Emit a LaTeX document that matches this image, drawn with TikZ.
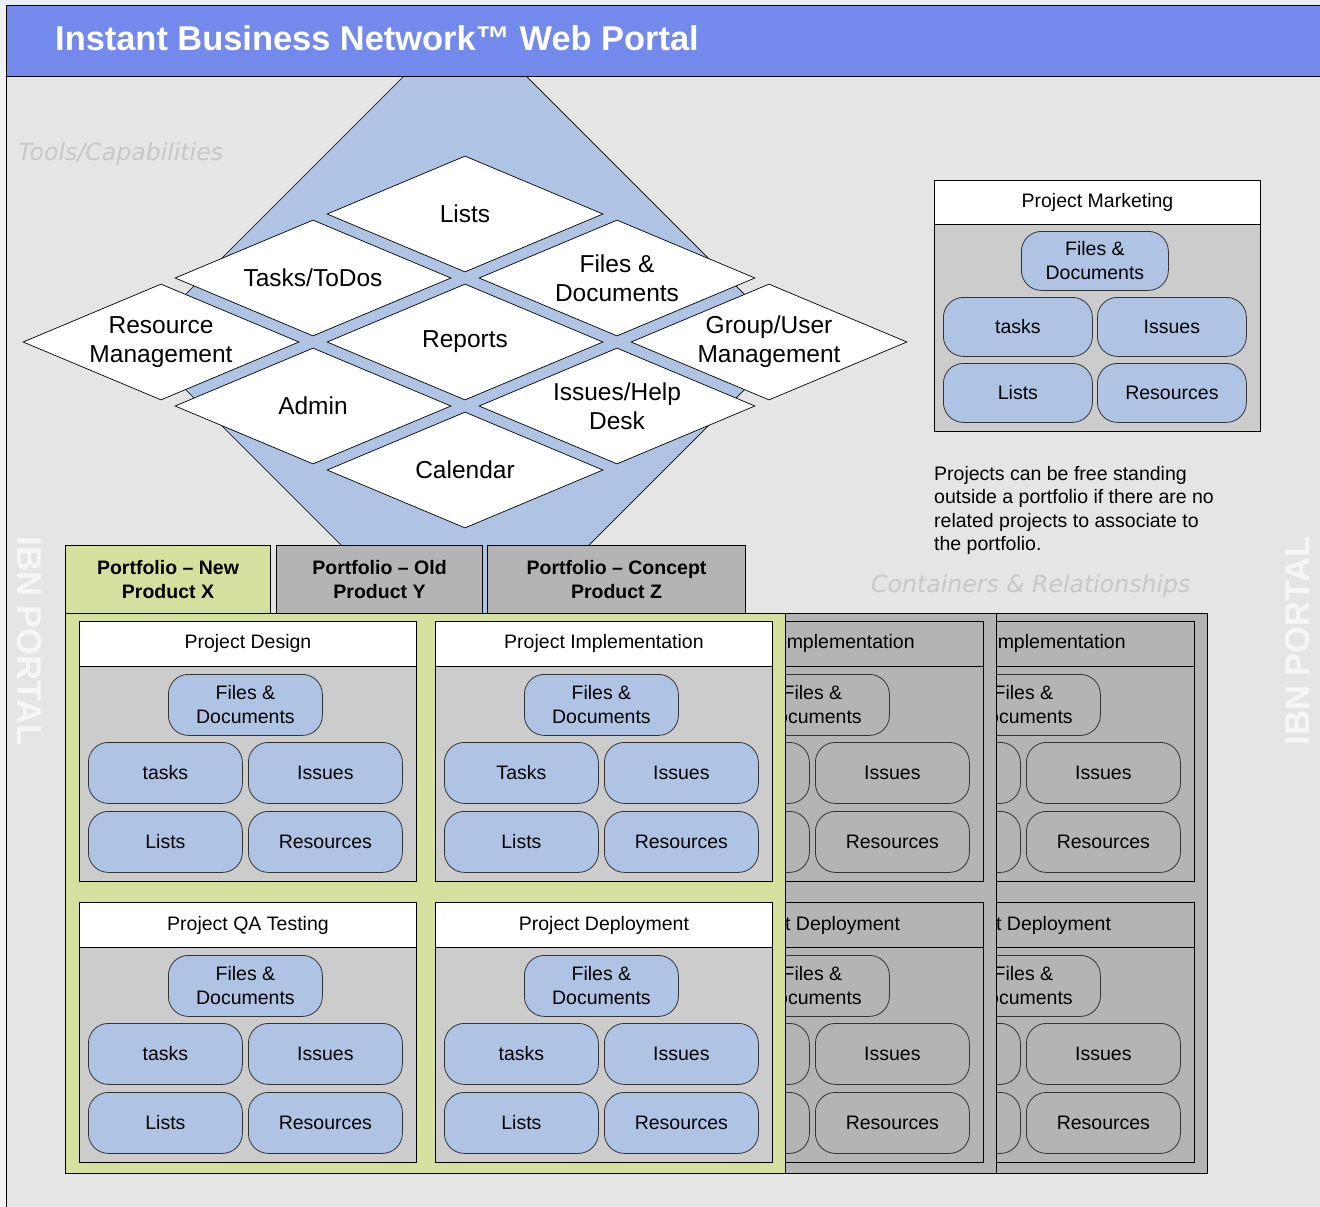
\documentclass[tikz,border=0pt]{standalone}
\usepackage{fontspec}
\setmainfont{Liberation Sans}
\newfontfamily\dvfont{DejaVu Sans}
\usetikzlibrary{shapes.geometric}
\definecolor{bgc}{HTML}{E5E5E5}
\definecolor{topc}{HTML}{E6EEF6}
\definecolor{leftc}{HTML}{F2F2F2}
\definecolor{hdrblue}{HTML}{7389EC}
\definecolor{lblue}{HTML}{AFC4E4}
\definecolor{pgreen}{HTML}{D6E09E}
\definecolor{pgray}{HTML}{B4B4B4}
\definecolor{cgray}{HTML}{CCCCCC}
\definecolor{faint}{HTML}{C8C8C8}
\definecolor{ibn}{HTML}{F6F6F6}
\newcommand{\fsN}{\fontsize{19.5}{24}\selectfont}
\newcommand{\fsD}{\fontsize{24.5}{29}\selectfont}
\newcommand{\pcard}[7]{%
  \node[bdy#7, anchor=north west, minimum width=337pt, minimum height=215pt] (#1b) at (#2,{#3+45}) {};
  \node[hdr#7, anchor=north west, minimum width=337pt, minimum height=45pt] (#1h) at (#2,#3) {#4};
  \node[pill#7, anchor=north west] (#1f) at ({#2+89},{#3+53}) {Files \&\\Documents};
  \node[pill#7, anchor=north west] (#1t) at ({#2+9},{#3+121}) {#5};
  \node[pill#7, anchor=north west] (#1i) at ({#2+169},{#3+121}) {Issues};
  \node[pill#7, anchor=north west] (#1l) at ({#2+9},{#3+190}) {#6};
  \node[pill#7, anchor=north west] (#1r) at ({#2+169},{#3+190}) {Resources};
}
\tikzset{
  hdrF/.style={draw, line width=0.9pt, fill=white, inner sep=0pt, font=\fsN},
  hdrB/.style={draw, line width=0.9pt, fill=pgray, inner sep=0pt, font=\fsN},
  bdyF/.style={draw, line width=0.9pt, fill=cgray, inner sep=0pt},
  bdyB/.style={draw, line width=0.9pt, fill=pgray, inner sep=0pt},
  pillF/.style={draw=black!80, line width=0.8pt, fill=lblue, rounded corners=20pt, minimum width=154pt, minimum height=61pt, inner sep=0pt, align=center, font=\fsN},
  pillB/.style={draw=black!80, line width=0.8pt, fill=pgray, rounded corners=20pt, minimum width=154pt, minimum height=61pt, inner sep=0pt, align=center, font=\fsN},
  dia/.style={diamond, draw, line width=0.7pt, fill=white, minimum width=276pt, minimum height=116pt, aspect=2.38, inner sep=0pt, align=center, font=\fsD},
  tabbox/.style={draw, line width=1pt, anchor=north west, minimum height=68pt, inner sep=0pt, align=center, font=\fsN\bfseries},
  portbody/.style={draw, line width=1.1pt, anchor=north west, minimum width=720pt, minimum height=560pt, inner sep=0pt},
  faintlabel/.style={text=faint, font=\dvfont\itshape\fontsize{23.6}{28}\selectfont, inner sep=0pt},
  ibnlabel/.style={text=ibn, font=\bfseries\fontsize{34.5}{40}\selectfont, inner sep=0pt}
}
\begin{document}
\begin{tikzpicture}[x=1pt,y=-1pt]
\useasboundingbox (0,0) rectangle (1320,1207);
% background
\fill[bgc] (0,0) rectangle (1320,1207);
\fill[topc] (0,0) rectangle (1320,5);
\fill[leftc] (0,5) rectangle (6,1207);
\draw[line width=1pt] (6,76) -- (6,1207);
% big blue diamond
\draw[fill=lblue, line width=0.7pt] (465,15) -- (792,342) -- (465,669) -- (138,342) -- cycle;
% header
\node[draw, line width=1.2pt, fill=hdrblue, anchor=north west, minimum width=1330pt, minimum height=71pt, inner sep=0pt] (header) at (6,5) {};
\node[anchor=base west, inner sep=0pt, text=white, font=\bfseries\fontsize{34.4}{40}\selectfont] (title) at (55,51) {Instant Business Network™ Web Portal};
% tool diamonds
\node[dia] (dlists) at (465,214) {Lists};
\node[dia] (dtasks) at (313,278) {Tasks/ToDos};
\node[dia] (dfiles) at (617,278) {Files \&\\Documents};
\node[dia] (dres) at (161,342) {Resource\\Management};
\node[dia] (drep) at (465,342) {Reports};
\node[dia] (dgroup) at (769,342) {Group/User\\Management};
\node[dia] (dadmin) at (313,406) {Admin};
\node[dia] (dissues) at (617,406) {Issues/Help\\Desk};
\node[dia] (dcal) at (465,470) {Calendar};
% faint labels
\node[faintlabel, anchor=base west] (tools) at (18,160) {Tools/Capabilities};
\node[faintlabel, anchor=base west] (cont) at (871,592) {Containers \& Relationships};
\node[ibnlabel, rotate=-90] (ibnl) at (29,641) {IBN PORTAL};
\node[ibnlabel, rotate=90] (ibnr) at (1298,641) {IBN PORTAL};
% free-standing project
\node[bdyF, anchor=north west, minimum width=326pt, minimum height=207pt] (mkb) at (934,224) {};
\node[hdrF, anchor=north west, minimum width=326pt, minimum height=44pt] (mkh) at (934,180) {Project Marketing};
\node[pillF, anchor=north west, minimum width=147pt, minimum height=59pt] (mkf) at (1021,231) {Files \&\\Documents};
\node[pillF, anchor=north west, minimum width=149pt, minimum height=59pt] (mkt) at (943,297) {tasks};
\node[pillF, anchor=north west, minimum width=149pt, minimum height=59pt] (mki) at (1097,297) {Issues};
\node[pillF, anchor=north west, minimum width=149pt, minimum height=59pt] (mkl) at (943,363) {Lists};
\node[pillF, anchor=north west, minimum width=149pt, minimum height=59pt] (mkr) at (1097,363) {Resources};
\node[anchor=north west, inner sep=0pt, align=left, font=\fontsize{19.5}{23.4}\selectfont] (note) at (934,466)
  {Projects can be free standing\\outside a portfolio if there are no\\related projects to associate to\\the portfolio.};
% portfolio Z (back)
\node[tabbox, fill=pgray, minimum width=258pt] (tabz) at (487,545) {Portfolio – Concept\\Product Z};
\node[portbody, fill=pgray] (bodyz) at (487,613) {};
\begin{scope}
  \clip (996,600) rectangle (1215,1180);
  \pcard{zi}{857}{621}{Project Implementation}{}{}{B}
  \pcard{zd}{857}{902}{Project Deployment}{}{}{B}
\end{scope}
% portfolio Y (middle)
\node[tabbox, fill=pgray, minimum width=206pt] (taby) at (276,545) {Portfolio – Old\\Product Y};
\node[portbody, fill=pgray] (bodyy) at (276,613) {};
\begin{scope}
  \clip (785,600) rectangle (1000,1180);
  \pcard{yi}{646}{621}{Project Implementation}{}{}{B}
  \pcard{yd}{646}{902}{Project Deployment}{}{}{B}
\end{scope}
% portfolio X (front)
\node[tabbox, fill=pgreen, minimum width=205pt] (tabx) at (65,545) {Portfolio – New\\Product X};
\node[portbody, fill=pgreen] (bodyx) at (65,613) {};
\pcard{xd}{79}{621}{Project Design}{tasks}{Lists}{F}
\pcard{xi}{435}{621}{Project Implementation}{Tasks}{Lists}{F}
\pcard{xq}{79}{902}{Project QA Testing}{tasks}{Lists}{F}
\pcard{xp}{435}{902}{Project Deployment}{tasks}{Lists}{F}
\end{tikzpicture}
\end{document}
